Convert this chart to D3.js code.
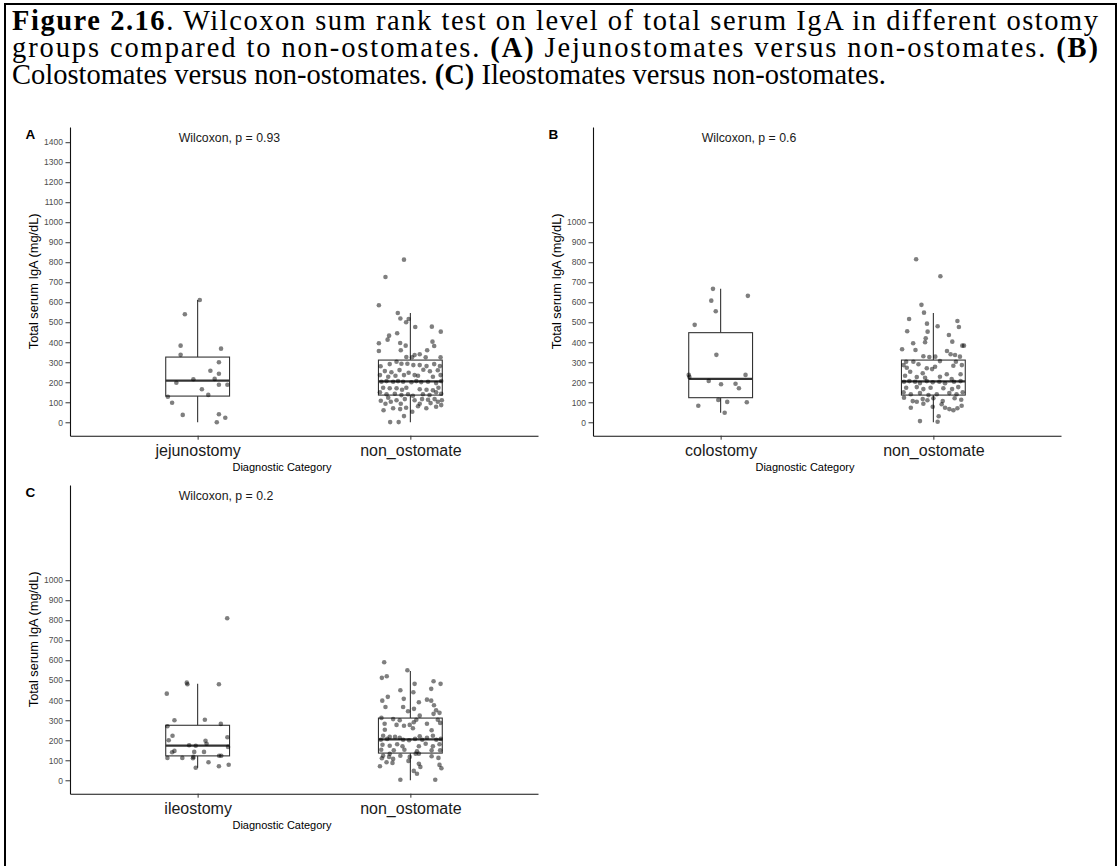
<!DOCTYPE html>
<html>
<head>
<meta charset="utf-8">
<script src="https://cdn.jsdelivr.net/npm/d3@7"></script>
<style>
  body { margin: 0; background: #fff; }
  svg { display: block; }
  .plot text { font-family: "Liberation Sans", Arial, sans-serif; }
  .caption { font-family: "Liberation Serif", "Times New Roman", serif; font-size: 28.5px; fill: #000; }
</style>
</head>
<body>
<svg id="chart" width="1120" height="866"></svg>
<script>
// ---- values ----
const panelLetters = ["A", "B", "C"];
const ostomyGroups = ["jejunostomy", "colostomy", "ileostomy"];
const controlGroup = "non_ostomate";
const pLabels = ["Wilcoxon, p = 0.93", "Wilcoxon, p = 0.6", "Wilcoxon, p = 0.2"];

const ticksA = [0, 100, 200, 300, 400, 500, 600, 700, 800, 900, 1000, 1100, 1200, 1300, 1400];
const ticksBC = [0, 100, 200, 300, 400, 500, 600, 700, 800, 900, 1000];

// box stats: [lower whisker, q1, median, q3, upper whisker]
const boxJejuno = [0, 131, 208, 326, 611];
const boxColo = [48, 123, 217, 448, 667];
const boxIleo = [63, 122, 173, 275, 483];
const boxNonOst = [0, 136, 205, 311, 546];

// points: [jitter (fraction of category step), IgA mg/dL]
const jejunoPts = [[0.01,611],[-0.06,540],[-0.08,383],[-0.08,337],[0.11,368],[0.10,300],[0.06,258],
  [0.10,243],[-0.02,215],[-0.10,198],[0.08,217],[0.10,188],[0.14,188],[0.02,165],[0.05,137],
  [-0.14,128],[-0.12,98],[-0.07,37],[0.10,40],[0.13,23],[0.09,0]];

const coloPts = [[-0.036,667],[-0.044,608],[-0.023,555],[0.128,632],[-0.122,487],[-0.02,337],
  [-0.15,237],[-0.147,227],[-0.056,207],[0.002,190],[0.117,237],[0.07,193],[0.086,170],
  [-0.011,112],[0.031,102],[0.123,100],[-0.105,83],[0.019,48]];

const ileoPts = [[0.139,810],[-0.051,488],[-0.048,480],[0.10,480],[-0.145,433],[-0.109,300],
  [0.034,303],[0.109,282],[-0.142,270],[-0.118,223],[-0.136,200],[0.037,198],[0.14,215],
  [-0.04,175],[-0.009,173],[0.042,183],[-0.109,147],[-0.12,140],[0.03,142],[-0.016,142],
  [0.143,167],[-0.142,112],[-0.072,112],[-0.02,117],[-0.022,110],[0.101,123],[0.111,123],
  [0.051,90],[-0.009,63],[0.10,70],[0.146,78]];

const nonOstPtsA = [[-0.03,813],[-0.117,726],[-0.148,585],[-0.059,546],[-0.047,519],[-0.008,516],
  [-0.02,500],[0.023,476],[0.101,478],[0.143,453],[-0.10,433],[-0.062,445],[-0.107,413],
  [-0.148,395],[-0.048,396],[-0.022,383],[0.104,403],[0.112,381],[-0.148,356],[-0.045,360],
  [0.079,360],[0.02,336],[0.044,340],[0.008,325],[-0.019,326],[0.142,325],[0.072,325],
  [-0.14,280],[-0.097,291],[-0.065,303],[-0.042,293],[-0.014,293],[0.014,286],[0.044,286],
  [0.076,281],[0.112,291],[0.139,281],[-0.12,256],[-0.089,250],[-0.051,261],[-0.008,248],
  [0.02,236],[0.061,263],[0.092,255],[0.129,260],[-0.143,236],[-0.104,228],[-0.07,233],
  [-0.03,236],[0.036,233],[0.106,228],[0.142,236],[-0.136,203],[-0.112,206],[-0.081,203],
  [-0.058,206],[-0.034,203],[0.005,200],[0.028,206],[0.051,201],[0.083,203],[0.121,196],
  [0.145,206],[-0.128,173],[-0.097,170],[-0.065,170],[-0.039,163],[-0.019,173],[0.044,165],
  [0.076,163],[0.106,160],[0.132,173],[-0.143,150],[-0.112,140],[-0.073,143],[-0.042,136],
  [-0.011,140],[0.012,133],[0.059,140],[0.09,136],[0.121,150],[0.145,143],[-0.139,108],
  [-0.104,123],[-0.065,110],[-0.026,116],[0.02,110],[0.055,116],[0.083,113],[0.114,116],
  [0.148,110],[-0.117,93],[-0.092,103],[-0.045,93],[0.044,93],[0.095,96],[0.129,103],
  [-0.126,60],[-0.081,70],[-0.048,66],[-0.02,73],[0.036,80],[0.121,78],[0.145,86],
  [-0.03,31],[-0.095,1],[-0.055,1],[0.009,53],[0.075,70]];

const nonOstPtsB = [[-0.081,815],[0.033,730],[-0.056,587],[-0.044,548],[-0.114,516],[-0.03,493],
  [0.02,480],[0.113,506],[0.12,476],[-0.123,455],[-0.027,453],[0.073,436],[-0.036,420],
  [-0.039,400],[-0.095,395],[0.089,403],[0.136,383],[0.144,383],[-0.147,365],[-0.084,361],
  [0.064,356],[0.081,340],[0.102,336],[-0.047,330],[-0.019,326],[0.009,328],[0.125,328],
  [-0.128,303],[-0.094,303],[0.031,306],[0.106,303],[-0.14,286],[-0.125,273],[-0.07,290],
  [-0.031,270],[0.008,278],[0.094,283],[0.134,286],[-0.109,253],[-0.05,245],[-0.006,266],
  [0.063,240],[0.128,240],[-0.133,233],[-0.078,226],[-0.039,223],[0.031,228],[0.086,216],
  [-0.138,203],[-0.113,206],[-0.086,203],[-0.063,196],[-0.031,206],[-0.003,200],[0.028,203],
  [0.055,195],[0.097,203],[0.128,206],[-0.128,173],[-0.078,176],[-0.047,166],[-0.013,173],
  [0.047,170],[0.088,166],[0.117,176],[-0.14,150],[-0.106,140],[-0.063,146],[-0.023,136],
  [0.016,140],[0.075,146],[0.109,140],[0.138,150],[-0.138,123],[-0.097,106],[-0.05,116],
  [-0.028,110],[0,120],[0.044,106],[0.10,120],[0.131,113],[-0.106,73],[0.039,90],[0.055,73],
  [0.075,66],[0.094,60],[0.113,70],[0.133,83],[-0.063,6],[0.02,3],[0.025,30],[-0.003,78],
  [-0.078,103],[-0.047,93]];

const nonOstPtsC = [[-0.123,590],[-0.134,512],[-0.111,520],[-0.014,550],[-0.047,450],[0.02,482],
  [0.109,495],[0.142,482],[0.098,457],[0.014,440],[-0.106,417],[-0.132,398],[-0.031,407],
  [0.04,390],[0.078,403],[0.098,398],[-0.117,366],[-0.034,366],[-0.011,345],[0.017,357],
  [0.111,375],[0.109,332],[0.121,350],[0.137,337],[-0.136,312],[-0.081,306],[-0.05,300],
  [0.044,323],[0.028,303],[0.129,303],[-0.121,283],[-0.065,277],[-0.03,273],[-0.003,277],
  [0.016,290],[0.078,283],[0.14,287],[-0.12,253],[0.012,260],[0.10,250],[-0.128,223],
  [-0.097,217],[-0.072,217],[-0.05,213],[0.044,220],[0.078,213],[0.106,223],[-0.139,203],
  [-0.109,207],[-0.034,203],[-0.006,200],[0.022,207],[0.056,203],[0.122,203],[0.143,207],
  [-0.131,178],[-0.097,173],[-0.062,180],[-0.037,170],[0.04,170],[0.072,183],[0.106,170],
  [0.137,180],[-0.137,153],[-0.078,150],[-0.028,153],[0.031,145],[0.04,133],[0.10,150],
  [0.14,150],[-0.128,123],[-0.10,117],[-0.003,117],[0.025,133],[0.10,120],[-0.134,110],
  [-0.081,107],[-0.047,123],[0.132,112],[-0.112,90],[-0.084,87],[-0.009,97],[0.04,83],
  [0.047,67],[0.137,77],[0.146,60],[-0.143,70],[0.016,47],[0.031,33],[-0.047,3],[0.117,3],
  [-0.097,133]];

// ---- layout ----
const svg = d3.select("#chart");
const plotLeft = 70, plotRight = 538, plotTop = 127, plotBottom = 435.7;

const panels = [
  { letter: panelLetters[0], group: ostomyGroups[0], box: boxJejuno, pts: jejunoPts, ctrl: nonOstPtsA, ticks: ticksA, p: pLabels[0], dx: 0, dy: 0 },
  { letter: panelLetters[1], group: ostomyGroups[1], box: boxColo, pts: coloPts, ctrl: nonOstPtsB, ticks: ticksBC, p: pLabels[1], dx: 523, dy: 0 },
  { letter: panelLetters[2], group: ostomyGroups[2], box: boxIleo, pts: ileoPts, ctrl: nonOstPtsC, ticks: ticksBC, p: pLabels[2], dx: 0, dy: 358 },
];

// frame
svg.append("path")
  .attr("d", "M5,866V4H1116V866")
  .attr("fill", "none")
  .attr("stroke", "#000")
  .attr("stroke-width", 2);

// caption
const caption = svg.append("g").attr("class", "caption");
const line1 = caption.append("text").attr("x", 12).attr("y", 30)
  .attr("textLength", 1086).attr("lengthAdjust", "spacing");
line1.append("tspan").attr("font-weight", "bold").text("Figure 2.16");
line1.append("tspan").text(". Wilcoxon sum rank test on level of total serum IgA in different ostomy");
const line2 = caption.append("text").attr("x", 12).attr("y", 57)
  .attr("textLength", 1086).attr("lengthAdjust", "spacing");
line2.append("tspan").text("groups compared to non-ostomates. ");
line2.append("tspan").attr("font-weight", "bold").text("(A)");
line2.append("tspan").text(" Jejunostomates versus non-ostomates. ");
line2.append("tspan").attr("font-weight", "bold").text("(B)");
const line3 = caption.append("text").attr("x", 12).attr("y", 84);
line3.append("tspan").text("Colostomates versus non-ostomates. ");
line3.append("tspan").attr("font-weight", "bold").text("(C)");
line3.append("tspan").text(" Ileostomates versus non-ostomates.");

const y = d3.scaleLinear().domain([-67, 1476]).range([plotBottom, plotTop]);

panels.forEach((cfg) => {
  const g = svg.append("g")
    .attr("class", "plot")
    .attr("transform", `translate(${cfg.dx},${cfg.dy})`);

  const x = d3.scalePoint()
    .domain([cfg.group, controlGroup])
    .range([plotLeft, plotRight])
    .padding(0.6);
  const half = 0.15 * x.step();

  // y axis
  const yAxis = g.append("g")
    .attr("transform", `translate(${plotLeft},0)`)
    .call(d3.axisLeft(y).tickValues(cfg.ticks).tickFormat(d3.format("d"))
      .tickSize(4.5).tickPadding(2.5).tickSizeOuter(0));
  yAxis.select(".domain").attr("stroke", "#111").attr("stroke-width", 1.1);
  yAxis.selectAll(".tick line").attr("stroke", "#333").attr("stroke-width", 1);
  yAxis.selectAll(".tick text").attr("fill", "#4d4d4d").style("font-size", "8.5px");

  // x axis
  const xAxis = g.append("g")
    .attr("transform", `translate(0,${plotBottom})`)
    .call(d3.axisBottom(x).tickSize(4).tickPadding(5).tickSizeOuter(0));
  xAxis.select(".domain").attr("stroke", "#111").attr("stroke-width", 1.1);
  xAxis.selectAll(".tick line").attr("stroke", "#333").attr("stroke-width", 1);
  xAxis.selectAll(".tick text").attr("fill", "#1a1a1a").style("font-size", "16px");

  // axis titles
  g.append("text")
    .attr("transform", `translate(38,${(plotTop + plotBottom) / 2}) rotate(-90)`)
    .attr("text-anchor", "middle")
    .style("font-size", "12.8px")
    .attr("fill", "#000")
    .text("Total serum IgA (mg/dL)");
  g.append("text")
    .attr("x", (plotLeft + plotRight) / 2 - 22)
    .attr("y", 471)
    .attr("text-anchor", "middle")
    .style("font-size", "11px")
    .attr("fill", "#000")
    .text("Diagnostic Category");

  // panel letter + test label
  g.append("text")
    .attr("x", 25.5).attr("y", 138.5)
    .style("font-size", "13.5px").style("font-weight", "bold")
    .attr("fill", "#000")
    .text(cfg.letter);
  g.append("text")
    .attr("x", x(cfg.group) - 19)
    .attr("y", y(1400))
    .style("font-size", "12.3px")
    .attr("fill", "#1a1a1a")
    .text(cfg.p);

  // boxes
  const groups = [
    { name: cfg.group, box: cfg.box, pts: cfg.pts },
    { name: controlGroup, box: boxNonOst, pts: cfg.ctrl },
  ];

  groups.forEach((d) => {
    const cx = x(d.name);
    const [lo, q1, med, q3, hi] = d.box;
    const bg = g.append("g").attr("stroke", "#333").attr("fill", "none");
    bg.append("line").attr("x1", cx).attr("x2", cx).attr("y1", y(q3)).attr("y2", y(hi)).attr("stroke-width", 1.1);
    bg.append("line").attr("x1", cx).attr("x2", cx).attr("y1", y(q1)).attr("y2", y(lo)).attr("stroke-width", 1.1);
    bg.append("rect")
      .attr("x", cx - half).attr("width", 2 * half)
      .attr("y", y(q3)).attr("height", y(q1) - y(q3))
      .attr("fill", "#fff")
      .attr("stroke-width", 1.1);
    bg.append("line").attr("x1", cx - half).attr("x2", cx + half)
      .attr("y1", y(med)).attr("y2", y(med)).attr("stroke-width", 2.2);
  });

  groups.forEach((d) => {
    g.append("g")
      .selectAll("circle")
      .data(d.pts)
      .join("circle")
      .attr("cx", (p) => x(d.name) + p[0] * x.step())
      .attr("cy", (p) => y(p[1]))
      .attr("r", 2.3)
      .attr("fill", "#000")
      .attr("fill-opacity", 0.5);
  });
});
</script>
</body>
</html>
